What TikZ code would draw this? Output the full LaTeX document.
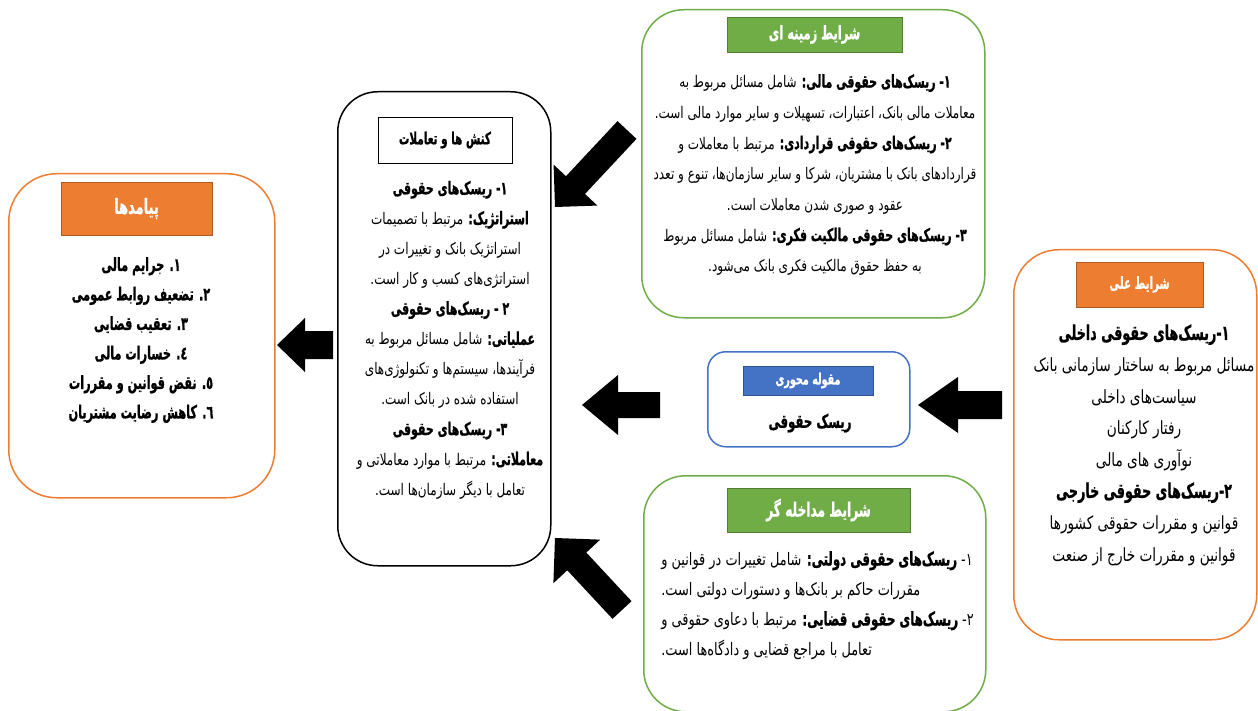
\documentclass[tikz,border=0pt]{standalone}
\usepackage{fontspec}
\usetikzlibrary{calc}
\newfontfamily\fa[Script=Arabic, FakeStretch=0.75]{DejaVu Sans}
\newfontfamily\fab[Script=Arabic, FakeStretch=0.62, FakeBold=0.8]{DejaVu Sans}
\TeXXeTstate=1
\newcommand{\RL}[1]{\beginR #1\endR}
\newcommand{\B}[2]{{\fab\bfseries\fontsize{#1}{30}\selectfont #2}}
\newcommand{\fsz}[2]{\fontsize{#1}{#2}\selectfont}
\definecolor{cgreen}{HTML}{70AD47}
\definecolor{cgreenD}{HTML}{507E32}
\definecolor{corange}{HTML}{ED7D31}
\definecolor{corangeD}{HTML}{AE5A21}
\definecolor{cblue}{HTML}{4472C4}
\definecolor{cblueD}{HTML}{2F528F}
\newcommand{\blockarrow}[5]{%
  \coordinate (ba-b) at ($(#2)!#5!(#1)$);
  \fill[black] ($(#1)!#3!90:(#2)$) -- ($(ba-b)!#3!-90:(#1)$) -- ($(ba-b)!#4!-90:(#1)$) -- (#2)
    -- ($(ba-b)!#4!90:(#1)$) -- ($(ba-b)!#3!90:(#1)$) -- ($(#1)!#3!-90:(#2)$) -- cycle;}
\begin{document}
\begin{tikzpicture}[x=1pt,y=-1pt,
  panel/.style={draw, line width=1.5pt, fill=white, anchor=north west, inner sep=0pt},
  ttl/.style={draw, line width=0.8pt, inner sep=0pt},
  txt/.style={align=center, inner sep=0pt},
]
\useasboundingbox (0,0) rectangle (1258,711);
\fill[white] (0,0) rectangle (1258,711);

% panels
\node[panel, draw=cgreen, rounded corners=42pt, minimum width=343pt, minimum height=308pt] (ctx) at (641,9) {};
\node[panel, draw=black, rounded corners=40pt, minimum width=213pt, minimum height=474pt] (act) at (337,91) {};
\node[panel, draw=corange, rounded corners=48pt, minimum width=266pt, minimum height=324pt] (out) at (8,173) {};
\node[panel, draw=corange, rounded corners=45pt, minimum width=243pt, minimum height=390pt] (cau) at (1013,249) {};
\node[panel, draw=cblue, rounded corners=18pt, minimum width=202pt, minimum height=95pt] (core) at (707,351) {};
\node[panel, draw=cgreen, rounded corners=42pt, minimum width=342pt, minimum height=236pt] (int) at (643,475) {};

% titles
\node[ttl, fill=cgreen, draw=cgreenD, text=white, minimum width=175pt, minimum height=35pt, font=\fab\bfseries\fsz{18.5}{21}] (ctxT) at (814.5,34.5) {\RL{شرایط زمینه ای}};
\node[ttl, fill=white, draw=black, text=black, minimum width=134pt, minimum height=46pt, font=\fab\bfseries\fsz{16.8}{19}] (actT) at (445,140) {\RL{کنش ها و تعاملات}};
\node[ttl, fill=corange, draw=corangeD, text=white, minimum width=151pt, minimum height=53pt, font=\fab\bfseries\fsz{21}{24}] (outT) at (136.5,208.5) {\RL{پیامدها}};
\node[ttl, fill=corange, draw=corangeD, text=white, minimum width=127pt, minimum height=45pt, font=\fab\bfseries\fsz{16.6}{19}] (cauT) at (1139.5,284.5) {\RL{شرایط علی}};
\node[ttl, fill=cblue, draw=cblueD, text=white, minimum width=130pt, minimum height=29pt, font=\fab\bfseries\fsz{15.5}{18}] (coreT) at (808,380.5) {\RL{مقوله محوری}};
\node[ttl, fill=cgreen, draw=cgreenD, text=white, minimum width=183pt, minimum height=44pt, font=\fab\bfseries\fsz{19.7}{22}] (intT) at (818.5,510) {\RL{شرایط مداخله گر}};

% texts
\node[txt, font=\fa\fsz{16}{30.7}] (ctxB) at (815,175) {%
\RL{\B{17.7}{۱- ریسک‌های حقوقی  مالی:} شامل مسائل مربوط به}\\
\RL{معاملات مالی بانک، اعتبارات، تسهیلات و سایر موارد مالی است.}\\
\RL{\B{17.7}{۲- ریسک‌های حقوقی  قراردادی:} مرتبط با معاملات و}\\
\RL{قراردادهای بانک با مشتریان، شرکا و سایر سازمان‌ها، تنوع و تعدد}\\
\RL{عقود و صوری شدن معاملات است.}\\
\RL{\B{17.7}{۳- ریسک‌های حقوقی  مالکیت فکری:} شامل مسائل مربوط}\\
\RL{به حفظ حقوق مالکیت فکری بانک می‌شود.}};

\node[txt, font=\fa\fsz{16}{30.1}] (actB) at (450,340) {%
\RL{\B{17.7}{۱- ریسک‌های حقوقی}}\\
\RL{\B{17.7}{استراتژیک:} مرتبط با تصمیمات}\\
\RL{استراتژیک بانک و تغییرات در}\\
\RL{استراتژی‌های کسب و کار است.}\\
\RL{\B{17.7}{۲ - ریسک‌های حقوقی}}\\
\RL{\B{17.7}{عملیاتی:} شامل مسائل مربوط به}\\
\RL{فرآیندها، سیستم‌ها و تکنولوژی‌های}\\
\RL{استفاده شده در بانک است.}\\
\RL{\B{17.7}{۳- ریسک‌های حقوقی}}\\
\RL{\B{17.7}{معاملاتی:} مرتبط با موارد معاملاتی و}\\
\RL{تعامل با دیگر سازمان‌ها است.}};

\node[txt, font=\fab\bfseries\fsz{18.2}{29.5}] (outB) at (141,340) {%
\RL{۱.  جرایم مالی}\\
\RL{۲. تضعیف روابط عمومی}\\
\RL{۳. تعقیب قضایی}\\
\RL{٤.  خسارات مالی}\\
\RL{٥. نقض قوانین و مقررات}\\
\RL{٦. کاهش رضایت مشتریان}};

\node[txt, font=\fa\fsz{18.2}{31.6}] (cauB) at (1144,445) {%
\RL{\B{20.5}{۱-ریسک‌های حقوقی داخلی}}\\
\RL{مسائل مربوط به ساختار سازمانی بانک}\\
\RL{سیاست‌های داخلی}\\
\RL{رفتار کارکنان}\\
\RL{نوآوری های مالی}\\
\RL{\B{20.5}{۲-ریسک‌های حقوقی خارجی}}\\
\RL{قوانین و مقررات حقوقی کشورها}\\
\RL{قوانین و مقررات خارج از صنعت}};

\node[txt, font=\fab\bfseries\fsz{18.9}{21}] (coreB) at (810,423) {\RL{ریسک حقوقی}};

\node[txt, align=left, anchor=east, font=\fa\fsz{17.2}{30}] (intB) at (974,605.5) {%
\RL{۱- \B{19}{ریسک‌های حقوقی  دولتی:} شامل تغییرات در قوانین و}\\
\RL{مقررات حاکم بر بانک‌ها و دستورات دولتی است.}\\
\RL{۲- \B{19}{ریسک‌های حقوقی قضایی:} مرتبط با دعاوی حقوقی و}\\
\RL{تعامل با مراجع قضایی و دادگاه‌ها است.}};

% arrows
\coordinate (a1t) at (627,130); \coordinate (a1h) at (555,207);
\blockarrow{a1t}{a1h}{13pt}{30pt}{30pt}
\coordinate (a2t) at (622,610); \coordinate (a2h) at (555,538);
\blockarrow{a2t}{a2h}{13pt}{32pt}{32pt}
\coordinate (a3t) at (660,405); \coordinate (a3h) at (582,405);
\blockarrow{a3t}{a3h}{13pt}{30pt}{36pt}
\coordinate (a4t) at (1002,405); \coordinate (a4h) at (918,405);
\blockarrow{a4t}{a4h}{14pt}{28pt}{40pt}
\coordinate (a5t) at (333,345); \coordinate (a5h) at (277,345);
\blockarrow{a5t}{a5h}{14pt}{27pt}{28pt}
\end{tikzpicture}
\end{document}
